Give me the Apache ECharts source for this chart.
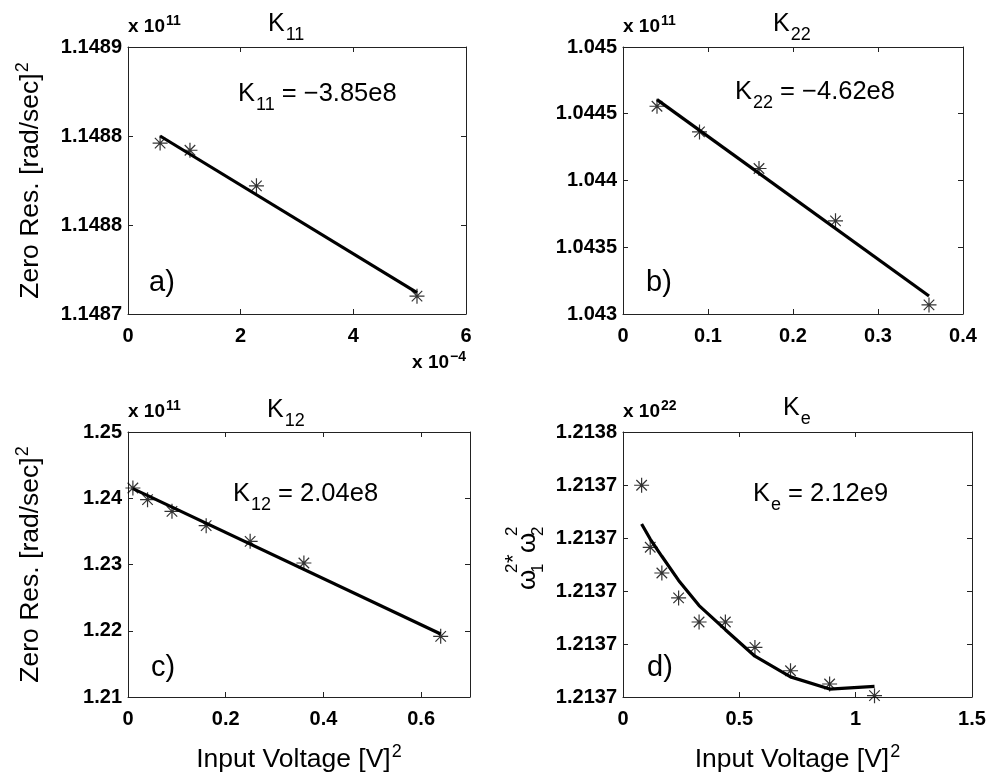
<!DOCTYPE html>
<html>
<head>
<meta charset="utf-8">
<script src="https://cdn.jsdelivr.net/npm/echarts@6/dist/echarts.min.js"></script>
<style>
html,body{margin:0;padding:0;background:#fff;}
#chart{width:990px;height:781px;}
</style>
</head>
<body>
<div id="chart"></div>
<script>
// ---- Data (y in units of 1e11 / 1e22 as printed; x of panel a in units of 1e-4) ----
const aX = [0.57, 1.10, 2.28, 5.13];
const aY = [1.148796, 1.148792, 1.148772, 1.148710];
const aFitX = [0.57, 5.13];
const aFitY = [1.148800, 1.148712];

const bX = [0.04, 0.09, 0.16, 0.25, 0.36];
const bY = [1.044556, 1.044364, 1.044090, 1.043698, 1.043068];
const bFitX = [0.04, 0.36];
const bFitY = [1.044606, 1.043135];

const cX = [0.01, 0.04, 0.09, 0.16, 0.25, 0.36, 0.64];
const cY = [1.241547, 1.239786, 1.238025, 1.235862, 1.233497, 1.230226, 1.219157];
const cFitX = [0.01, 0.64];
const cFitY = [1.241447, 1.219509];

const dX = [0.08, 0.117, 0.167, 0.239, 0.327, 0.44, 0.567, 0.72, 0.888, 1.081];
const dY = [1.2137399, 1.2137165, 1.2137068, 1.2136974, 1.2136883, 1.2136883, 1.2136787, 1.2136699, 1.2136649, 1.2136605];
const dFitY = [1.2137253, 1.2137196, 1.2137131, 1.2137040, 1.2136945, 1.2136854, 1.2136754, 1.2136676, 1.2136630, 1.2136640];

// ---- Tick labels ----
const aXTicks = ['0', '2', '4', '6'];
const aYTicks = ['1.1487', '1.1488', '1.1488', '1.1489'];
const bXTicks = ['0', '0.1', '0.2', '0.3', '0.4'];
const bYTicks = ['1.043', '1.0435', '1.044', '1.0445', '1.045'];
const cXTicks = ['0', '0.2', '0.4', '0.6'];
const cYTicks = ['1.21', '1.22', '1.23', '1.24', '1.25'];
const dXTicks = ['0', '0.5', '1', '1.5'];
const dYTicks = ['1.2137', '1.2137', '1.2137', '1.2137', '1.2137', '1.2138'];

const FONT = "'Liberation Sans', Arial, Helvetica, sans-serif";
const AXC = '#222';

function fmt(min, interval, labels) {
  return function (v) {
    const i = Math.round((v - min) / interval);
    if (Math.abs(v - (min + i * interval)) > interval * 1e-3) return '';
    return labels[i] !== undefined ? labels[i] : '';
  };
}
function pairs(xs, ys) { return xs.map((x, i) => [x, ys[i]]); }

const grids = [
  { left: 128, top: 47, width: 338, height: 267 },
  { left: 623, top: 47, width: 340, height: 267 },
  { left: 128, top: 432, width: 342, height: 265 },
  { left: 623, top: 432, width: 349, height: 265 }
];
const xs = [
  { min: 0, max: 6, interval: 2, labels: aXTicks },
  { min: 0, max: 0.4, interval: 0.1, labels: bXTicks },
  { min: 0, max: 0.7, interval: 0.2, labels: cXTicks },
  { min: 0, max: 1.5, interval: 0.5, labels: dXTicks }
];
const ys = [
  { min: 1.1487, max: 1.14885, interval: 0.00005, labels: aYTicks },
  { min: 1.043, max: 1.045, interval: 0.0005, labels: bYTicks },
  { min: 1.21, max: 1.25, interval: 0.01, labels: cYTicks },
  { min: 1.21366, max: 1.21376, interval: 0.00002, labels: dYTicks }
];

const tickLabelStyle = { color: '#000', fontSize: 20, fontWeight: 'bold', fontFamily: FONT };
const xAxis = [], yAxis = [];
const xName = { 2: 'Input Voltage [V]{sup|2}', 3: 'Input Voltage [V]{sup|2}' };
const nameRich = {
  sup: { fontSize: 18, fontFamily: FONT, color: '#000', padding: [0, 0, 15, 1] }
};
const yName = { 0: 'Zero Res. [rad/sec]{sup|2}', 2: 'Zero Res. [rad/sec]{sup|2}' };

for (let g = 0; g < 4; g++) {
  const X = xs[g], Y = ys[g];
  ['bottom', 'top'].forEach((pos, k) => {
    xAxis.push({
      type: 'value', gridIndex: g, position: pos, min: X.min, max: X.max, interval: X.interval,
      axisLine: { show: true, onZero: false, lineStyle: { color: AXC, width: 1 } },
      axisTick: { show: true, inside: true, length: 5, lineStyle: { color: AXC } },
      splitLine: { show: false },
      axisLabel: k === 0 ? Object.assign({ show: true, margin: 12, formatter: fmt(X.min, X.interval, X.labels) }, tickLabelStyle) : { show: false },
      name: (k === 0 && xName[g]) ? xName[g] : '',
      nameLocation: 'middle', nameGap: 46,
      nameTextStyle: { fontSize: 26.5, fontFamily: FONT, color: '#000', rich: nameRich }
    });
  });
  ['left', 'right'].forEach((pos, k) => {
    yAxis.push({
      type: 'value', gridIndex: g, position: pos, min: Y.min, max: Y.max, interval: Y.interval,
      axisLine: { show: true, onZero: false, lineStyle: { color: AXC, width: 1 } },
      axisTick: { show: true, inside: true, length: 5, lineStyle: { color: AXC } },
      splitLine: { show: false },
      axisLabel: k === 0 ? Object.assign({ show: true, margin: 6, formatter: fmt(Y.min, Y.interval, Y.labels) }, tickLabelStyle) : { show: false },
      name: (k === 0 && yName[g]) ? yName[g] : '',
      nameLocation: 'middle', nameRotate: 90, nameGap: 81,
      nameTextStyle: { fontSize: 26.5, fontFamily: FONT, color: '#000', rich: nameRich }
    });
  });
}

const STAR = 'path://M0,-10L0,10M-10,0L10,0M-7,-7L7,7M-7,7L7,-7';
function scatter(g, data) {
  return {
    type: 'scatter', xAxisIndex: g * 2, yAxisIndex: g * 2, data: data,
    symbol: STAR, symbolSize: 15,
    itemStyle: { color: 'rgba(0,0,0,0)', borderColor: '#000', borderWidth: 1.2 },
    z: 3, animation: false
  };
}
function fit(g, data) {
  return {
    type: 'line', xAxisIndex: g * 2, yAxisIndex: g * 2, data: data,
    showSymbol: false, symbol: 'none', lineStyle: { color: '#000', width: 3.2 },
    z: 2, animation: false
  };
}

const series = [
  fit(0, pairs(aFitX, aFitY)), scatter(0, pairs(aX, aY)),
  fit(1, pairs(bFitX, bFitY)), scatter(1, pairs(bX, bY)),
  fit(2, pairs(cFitX, cFitY)), scatter(2, pairs(cX, cY)),
  fit(3, pairs(dX, dFitY)), scatter(3, pairs(dX, dY))
];

// ---- Text decorations ----
const richTitle = {
  k: { fontSize: 25, fontFamily: FONT, color: '#000' },
  sub: { fontSize: 18, fontFamily: FONT, color: '#000', padding: [22, 0, 0, 1] }
};
const richNote = {
  t: { fontSize: 25.5, fontFamily: FONT, color: '#000' },
  sub: { fontSize: 18, fontFamily: FONT, color: '#000', padding: [22, 0, 0, 1] }
};
function title(x, y, text) {
  return { type: 'text', x: x, y: y, style: { text: text, rich: richTitle, align: 'left', verticalAlign: 'top' } };
}
function note(x, y, text) {
  return { type: 'text', x: x, y: y, style: { text: text, rich: richNote, align: 'left', verticalAlign: 'top' } };
}
const expRich = {
  b: { fontSize: 19, fontWeight: 'bold', fontFamily: FONT, color: '#000' },
  sup: { fontSize: 14, fontWeight: 'bold', fontFamily: FONT, color: '#000', padding: [0, 0, 11, 1] }
};
function expTxt(x, y, text, align) {
  return { type: 'text', x: x, y: y, style: { text: text, rich: expRich, align: align || 'left', verticalAlign: 'bottom' } };
}
function letter(x, y, s) {
  return { type: 'text', x: x, y: y, style: { text: s, fontSize: 29, fontFamily: FONT, fill: '#000', align: 'left', verticalAlign: 'top' } };
}

const wFont = { fontFamily: FONT, fill: '#000' };
function wt(x, y, s, size) {
  return { type: 'text', x: x, y: y, style: Object.assign({ text: s, fontSize: size, align: 'left', verticalAlign: 'middle' }, wFont) };
}
const omegaLabel = {
  type: 'group', x: 522, y: 553, rotation: Math.PI / 2,
  children: [
    wt(-37, 6, 'ω', 26),
    wt(-20, -10, '2', 17),
    wt(-20, 16, '1', 17),
    wt(-10, -8, '*', 22),
    wt(0, 6, 'ω', 26),
    wt(17, -10, '2', 17),
    wt(17, 16, '2', 17)
  ]
};

const graphic = [
  title(268, 4, '{k|K}{sub|11}'),
  title(773, 4, '{k|K}{sub|22}'),
  title(267, 390, '{k|K}{sub|12}'),
  title(783, 388, '{k|K}{sub|e}'),
  note(238, 74, '{t|K}{sub|11}{t| = −3.85e8}'),
  note(735, 72, '{t|K}{sub|22}{t| = −4.62e8}'),
  note(233, 474, '{t|K}{sub|12}{t| = 2.04e8}'),
  note(753, 474, '{t|K}{sub|e}{t| = 2.12e9}'),
  expTxt(128, 39, '{b|x 10}{sup|11}'),
  expTxt(623, 39, '{b|x 10}{sup|11}'),
  expTxt(128, 424, '{b|x 10}{sup|11}'),
  expTxt(623, 424, '{b|x 10}{sup|22}'),
  expTxt(466, 375, '{b|x 10}{sup|−4}', 'right'),
  letter(149, 268, 'a)'),
  letter(646, 268, 'b)'),
  letter(151, 653, 'c)'),
  letter(647, 653, 'd)'),
  omegaLabel
];

const chart = echarts.init(document.getElementById('chart'), null, { renderer: 'canvas' });
chart.setOption({
  backgroundColor: '#fff',
  animation: false,
  textStyle: { fontFamily: FONT },
  grid: grids,
  xAxis: xAxis,
  yAxis: yAxis,
  series: series,
  graphic: graphic
});
</script>
</body>
</html>
